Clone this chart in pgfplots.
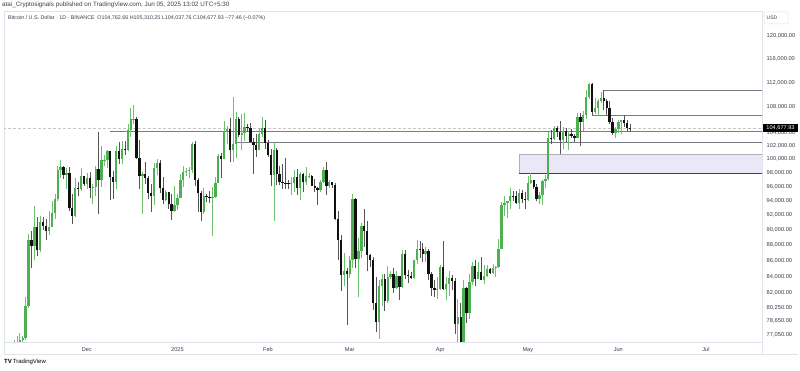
\documentclass[border=0pt]{standalone}
\usepackage{fontspec}
\setmainfont{Liberation Sans}
\usepackage{pgfplots}
\usepackage{pgfplotstable}
\pgfplotsset{compat=1.18}
\definecolor{upg}{HTML}{4CAF50}
\definecolor{upw}{HTML}{6CC070}
\definecolor{dnb}{HTML}{111111}
\definecolor{dnw}{HTML}{555555}
\definecolor{lvl}{HTML}{787B86}
\definecolor{frm}{HTML}{E0E3EB}
\definecolor{boxfill}{HTML}{E9E7F8}
\definecolor{txt}{HTML}{3A3E4A}

% BTC/USD daily candles, prices in thousands of USD; d = days from 1 Dec 2024
\pgfplotstableread{
d o h l c
-25 69.38 76.50 69.32 75.86
-24 75.86 76.95 74.45 75.90
-23 75.90 77.25 75.55 76.51
-22 76.51 76.90 75.82 76.67
-21 76.67 81.50 76.49 80.37
-20 80.37 89.53 80.22 88.65
-19 88.65 89.94 85.07 87.95
-18 87.95 93.26 86.13 90.375
-17 90.375 91.79 86.67 87.325
-16 87.325 91.85 87.07 91.06
-15 91.06 91.78 90.05 90.60
-14 90.60 91.45 88.72 89.85
-13 89.85 92.59 89.38 90.46
-12 90.46 94.00 90.39 92.31
-11 92.31 94.90 91.50 94.29
-10 94.29 98.99 94.00 98.35
-9 98.35 99.80 97.19 98.89
-8 98.89 98.90 97.13 97.67
-7 97.67 98.65 95.70 97.90
-6 97.90 98.87 92.60 93.01
-5 93.01 94.97 90.79 91.965
-4 91.965 97.21 91.80 95.86
-3 95.86 96.65 94.70 95.64
-2 95.64 98.70 95.36 97.46
-1 97.46 97.50 96.10 96.41
0 96.41 97.90 95.70 97.19
1 97.19 98.15 94.40 95.84
2 95.84 96.30 93.58 95.99
3 95.99 99.00 94.66 98.59
4 98.59 104.09 92.12 96.95
5 96.95 101.90 95.98 99.87
6 99.87 100.55 98.95 99.92
7 99.92 101.40 98.70 101.17
8 101.17 101.22 94.15 97.35
9 97.35 98.27 94.25 96.59
10 96.59 101.89 95.65 101.12
11 101.12 102.54 99.31 100.00
12 100.00 102.65 99.20 101.42
13 101.42 102.65 100.60 101.30
14 101.30 105.25 101.23 104.46
15 104.46 107.79 103.33 106.06
16 106.06 108.35 105.32 106.14
17 106.14 106.47 100.00 100.20
18 100.20 102.80 95.67 97.46
19 97.46 98.15 92.23 97.80
20 97.80 99.54 96.40 97.22
21 97.22 97.45 94.20 95.10
22 95.10 96.42 92.40 94.69
23 94.69 99.40 93.40 98.68
24 98.68 99.96 97.60 99.40
25 99.40 99.89 95.15 95.77
26 95.77 97.30 93.50 94.17
27 94.17 95.50 94.02 95.16
28 95.16 95.20 92.88 93.53
29 93.53 94.90 91.32 92.64
30 92.64 96.10 92.50 93.39
31 93.39 94.90 92.75 94.42
32 94.42 97.80 94.40 96.89
33 96.89 98.95 96.00 98.10
34 98.10 98.73 97.51 98.23
35 98.23 98.82 97.27 98.32
36 98.32 102.48 97.90 102.25
37 102.25 102.72 96.10 96.95
38 96.95 97.25 92.50 95.05
39 95.05 95.35 91.20 92.48
40 92.48 95.85 92.20 94.70
41 94.70 95.00 93.85 94.56
42 94.56 95.40 93.70 94.52
43 94.52 95.90 89.25 94.54
44 94.54 97.37 94.33 96.53
45 96.53 100.70 96.50 100.50
46 100.50 100.87 97.26 99.99
47 99.99 105.87 99.95 104.08
48 104.08 104.99 102.27 104.55
49 104.55 106.30 99.60 101.33
50 101.33 109.59 99.55 102.26
51 102.26 107.24 100.10 106.15
52 106.15 106.39 103.30 103.65
53 103.65 106.85 101.27 103.97
54 103.97 107.13 102.75 104.82
55 104.82 105.28 104.10 104.70
56 104.70 105.48 102.45 102.62
57 102.62 103.20 97.78 102.08
58 102.08 103.78 100.27 101.33
59 101.33 104.78 101.33 103.73
60 103.73 106.46 103.30 104.73
61 104.73 106.00 101.55 102.43
62 102.43 102.80 100.30 100.64
63 100.64 101.50 96.10 97.69
64 97.69 102.50 91.23 101.40
65 101.40 101.70 96.15 97.87
66 97.87 99.00 96.20 96.62
67 96.62 99.20 95.70 96.55
68 96.55 100.14 95.65 96.50
69 96.50 96.88 95.69 96.45
70 96.45 97.32 94.75 96.46
71 96.46 98.35 95.25 97.43
72 97.43 98.50 94.85 95.78
73 95.78 98.12 94.09 97.87
74 97.87 98.00 95.20 96.61
75 96.61 98.83 96.27 97.50
76 97.50 97.95 97.25 97.57
77 97.57 97.72 96.05 96.12
78 96.12 97.05 95.20 95.77
79 95.77 96.00 93.35 95.54
80 95.54 96.90 95.20 96.63
81 96.63 98.75 96.44 98.33
82 98.33 99.50 94.87 96.13
83 96.13 96.95 95.75 96.58
84 96.58 96.67 95.80 96.27
85 96.27 96.50 91.35 91.55
86 91.55 92.55 86.05 88.68
87 88.68 89.30 82.25 84.25
88 84.25 87.00 82.80 84.70
89 84.70 85.12 78.25 84.35
90 84.35 86.55 83.85 86.06
91 86.06 95.00 85.05 94.27
92 94.27 94.40 85.10 86.22
93 86.22 88.90 81.50 87.28
94 87.28 91.00 86.30 90.60
95 90.60 92.80 87.80 89.93
96 89.93 91.20 84.70 86.80
97 86.80 86.90 85.25 86.15
98 86.15 86.45 80.00 80.73
99 80.73 83.95 77.45 78.53
100 78.53 83.60 76.60 82.86
101 82.86 84.35 80.45 83.72
102 83.72 84.30 79.90 81.07
103 81.07 85.30 80.80 83.97
104 83.97 84.65 83.65 84.34
105 84.34 85.05 82.00 82.58
106 82.58 84.75 82.45 84.08
107 84.08 84.10 81.15 82.72
108 82.72 87.45 82.60 86.85
109 86.85 87.45 83.65 84.17
110 84.17 84.85 83.20 84.04
111 84.04 84.53 83.65 83.83
112 83.83 86.10 83.65 86.08
113 86.08 88.75 85.55 87.50
114 87.50 88.55 86.30 87.47
115 87.47 88.30 85.85 86.90
116 86.90 87.80 85.80 87.23
117 87.23 87.50 83.55 84.35
118 84.35 84.55 81.65 82.60
119 82.60 83.55 81.55 82.39
120 82.39 83.90 81.30 82.54
121 82.54 85.50 82.40 85.16
122 85.16 88.50 82.30 82.52
123 82.52 83.95 81.20 83.10
124 83.10 84.70 81.65 83.84
125 83.84 84.25 82.35 83.50
126 83.50 83.80 77.15 78.37
127 78.37 81.25 74.50 79.13
128 79.13 80.80 76.20 76.27
129 76.27 83.55 74.60 82.57
130 82.57 82.70 78.45 79.60
131 79.60 84.30 78.90 83.40
132 83.40 85.90 82.95 85.28
133 85.28 86.10 82.80 83.73
134 83.73 85.80 83.65 84.56
135 84.56 86.50 83.60 83.64
136 83.64 85.50 83.10 84.03
137 84.03 85.45 83.95 84.94
138 84.94 85.10 84.30 84.45
139 84.45 85.60 84.30 85.06
140 85.06 85.30 83.95 85.17
141 85.17 88.85 85.15 87.52
142 87.52 93.85 87.60 93.44
143 93.44 94.70 91.90 93.70
144 93.70 94.00 91.65 93.95
145 93.95 95.75 92.85 94.72
146 94.72 95.30 93.90 94.65
147 94.65 95.35 93.60 93.75
148 93.75 95.60 92.85 95.03
149 95.03 95.45 93.75 94.26
150 94.26 95.20 92.90 94.17
151 94.17 97.45 94.00 96.49
152 96.49 97.90 96.30 96.90
153 96.90 96.95 95.70 95.89
154 95.89 96.30 94.00 94.31
155 94.31 95.20 93.50 94.75
156 94.75 96.90 93.40 96.83
157 96.83 97.70 95.80 97.03
158 97.03 104.15 96.90 103.24
159 103.24 104.35 102.30 102.97
160 102.97 104.95 102.80 104.70
161 104.70 105.00 103.35 104.11
162 104.11 105.80 100.70 102.81
163 102.81 104.80 101.45 104.17
164 104.17 104.75 102.60 103.54
165 103.54 104.20 101.38 103.74
166 103.74 104.55 103.10 103.50
167 103.50 103.70 102.60 103.17
168 103.17 107.10 103.10 106.45
169 106.45 107.10 102.00 105.60
170 105.60 107.30 104.20 106.80
171 106.80 110.80 106.10 109.65
172 109.65 111.98 109.30 111.70
173 111.70 111.95 106.80 107.29
174 107.29 109.45 106.90 107.79
175 107.79 109.30 106.60 109.03
176 109.03 110.40 108.70 109.44
177 109.44 110.75 107.55 108.99
178 108.99 109.30 106.80 107.80
179 107.80 108.90 105.35 105.64
180 105.64 106.30 103.65 103.99
181 103.99 104.90 103.10 104.60
182 104.60 105.90 103.90 105.65
183 105.65 105.95 103.70 105.88
184 105.88 106.80 104.90 105.43
185 105.43 105.95 104.20 104.76
186 104.76266 105.31025 104.03776 104.67793
}\btc

\begin{document}
\begin{tikzpicture}[x=1pt,y=1pt]
\useasboundingbox (0,0) rectangle (800,370);
\begin{axis}[
  at={(4pt,28pt)}, anchor=south west,
  width=758pt, height=331pt, scale only axis,
  ymode=log,
  xmin=-28.4, xmax=231.2, ymin=76.26, ymax=124.53,
  axis line style={draw=frm, line width=0.5pt},
  major tick length=0pt, minor tick length=0pt,
  ytick={77.05,78.65,80.25,82,84,86,88,90,92,94,96,98,100,102,104,108,112,116,120},
  yticklabels={{77,050.00},{78,650.00},{80,250.00},{82,000.00},{84,000.00},{86,000.00},{88,000.00},{90,000.00},{92,000.00},{94,000.00},{96,000.00},{98,000.00},{100,000.00},{102,000.00},{104,000.00},{108,000.00},{112,000.00},{116,000.00},{120,000.00}},
  yticklabel pos=right,
  yticklabel style={font=\fontsize{5.7}{6}\selectfont, text=txt, anchor=west, xshift=1.2pt},
  xtick={0,31,62,90,121,151,182,212},
  xticklabels={Dec,2025,Feb,Mar,Apr,May,Jun,Jul},
  xticklabel style={font=\fontsize{5.6}{6}\selectfont, text=txt, yshift=-2pt},
  clip=true,
]
% demand zone
\addplot[fill=boxfill, draw=lvl!60, line width=0.5pt, forget plot] coordinates {(148,97.85) (240,97.85) (240,100.7) (148,100.7)} -- cycle;
\addplot[draw=black!75, line width=0.8pt, forget plot] coordinates {(148,97.85) (240,97.85)};
% level lines
\addplot[lvl, line width=0.7pt, forget plot] coordinates {(8,104.15) (240,104.15)};
\addplot[lvl, line width=0.7pt, forget plot] coordinates {(51,102.5) (240,102.5)};
\addplot[lvl, line width=0.7pt, forget plot] coordinates {(177,110.66) (240,110.66)};
\addplot[lvl, line width=0.7pt, forget plot] coordinates {(173,106.75) (240,106.75)};
% current price line
\addplot[black!22, line width=0.4pt, dash pattern=on 2pt off 1.2pt on 0.6pt off 1.2pt, forget plot] coordinates {(-30,104.67793) (240,104.67793)};
% wicks
\addplot[draw=none, mark=none, forget plot, error bars/.cd, y dir=plus, y explicit, error mark=none,
  error bar style={draw=upw, line width=0.55pt, line cap=butt, solid}]
  table[x=d, y=l, y error plus expr={(\thisrow{c}>=\thisrow{o})*(\thisrow{h}-\thisrow{l})}] {\btc};
\addplot[draw=none, mark=none, forget plot, error bars/.cd, y dir=plus, y explicit, error mark=none,
  error bar style={draw=dnw, line width=0.55pt, line cap=butt, solid}]
  table[x=d, y=l, y error plus expr={(\thisrow{c}<\thisrow{o})*(\thisrow{h}-\thisrow{l})}] {\btc};
% bodies
\addplot[draw=none, mark=none, forget plot, error bars/.cd, y dir=plus, y explicit, error mark=none,
  error bar style={draw=upg, line width=2.3pt, line cap=butt, solid}]
  table[x=d, y=o, y error plus expr={(\thisrow{c}>=\thisrow{o})*(\thisrow{c}-\thisrow{o})}] {\btc};
\addplot[draw=none, mark=none, forget plot, error bars/.cd, y dir=plus, y explicit, error mark=none,
  error bar style={draw=dnb, line width=2.3pt, line cap=butt, solid}]
  table[x=d, y=c, y error plus expr={(\thisrow{c}<\thisrow{o})*(\thisrow{o}-\thisrow{c})}] {\btc};
\end{axis}
% frame around time axis and price scale
\draw[frm, line width=0.5pt] (4,16) -- (4,28);
\draw[frm, line width=0.5pt] (762,16) -- (762,28);
\draw[frm, line width=0.5pt] (4,16) -- (798,16);
% USD box
\draw[frm, line width=0.5pt, rounded corners=1pt] (764,346) rectangle (788,358);
\node[anchor=west, inner sep=0pt, font=\fontsize{5}{6}\selectfont, text=txt] at (766.5,352) {USD};
% current price label
\fill[black] (763,237.6) rectangle (798,246);
\node[inner sep=0pt, font=\fontsize{5.6}{6}\selectfont, text=white] at (780.5,241.8) {104,677.93};
% header
\node[anchor=west, inner sep=0pt, font=\fontsize{6.3}{7}\selectfont, text=txt] at (2,365) {atai\_Cryptosignals published on TradingView.com, Jun 05, 2025 13:02 UTC+5:30};
\node[anchor=west, inner sep=0pt, font=\fontsize{5.35}{7}\selectfont, text=txt] at (8,352) {Bitcoin / U.S. Dollar · 1D · BINANCE\enspace O104,762.66 H105,310.25 L104,037.76 C104,677.93 −77.46 (−0.07\%)};
% footer logo
\node[anchor=west, inner sep=0pt, font=\fontsize{6}{7}\selectfont, text=black] at (4,8) {\textbf{TV}\,TradingView};
\end{tikzpicture}
\end{document}
